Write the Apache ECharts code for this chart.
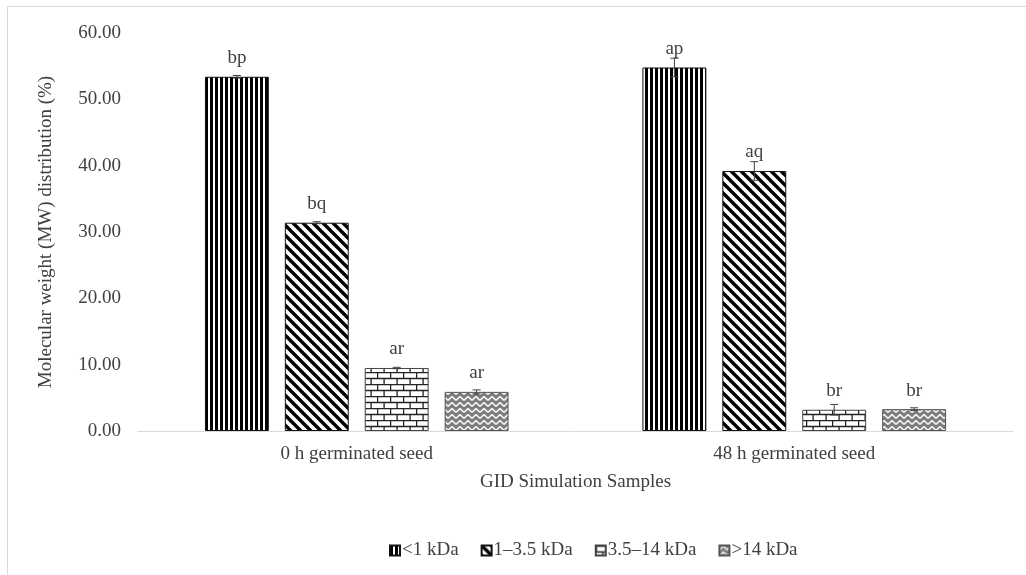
<!DOCTYPE html>
<html>
<head>
<meta charset="utf-8">
<script src="https://cdn.jsdelivr.net/npm/echarts@6/dist/echarts.min.js"></script>
<style>
html,body{margin:0;padding:0;background:#fff;}
#chart{width:1026px;height:575px;}
</style>
</head>
<body>
<div id="chart"></div>
<script>
// ---- data ----
var categories = ['0 h germinated seed', '48 h germinated seed'];
var seriesNames = ['<1 kDa', '1\u20133.5 kDa', '3.5\u201314 kDa', '>14 kDa'];
var valsLt1 = [53.4, 54.8];
var vals1to35 = [31.4, 39.2];
var vals35to14 = [9.5, 3.2];
var valsGt14 = [5.9, 3.3];
var errLt1 = [0.2, 1.4];
var err1to35 = [0.15, 1.4];
var err35to14 = [0.1, 0.8];
var errGt14 = [0.3, 0.2];
var lettersLt1 = ['bp', 'ap'];
var letters1to35 = ['bq', 'aq'];
var letters35to14 = ['ar', 'br'];
var lettersGt14 = ['ar', 'br'];
var yTicks = [0, 10, 20, 30, 40, 50, 60];

var values = [valsLt1, vals1to35, vals35to14, valsGt14];
var errors = [errLt1, err1to35, err35to14, errGt14];
var letters = [lettersLt1, letters1to35, letters35to14, lettersGt14];

// ---- patterns ----
function mk(w, h, draw) {
  var c = document.createElement('canvas');
  c.width = w; c.height = h;
  var ctx = c.getContext('2d');
  ctx.fillStyle = '#fff'; ctx.fillRect(0, 0, w, h);
  draw(ctx, w, h);
  return c;
}
var patVert = mk(5, 4, function (ctx) {
  ctx.fillStyle = '#000'; ctx.fillRect(0, 0, 3, 4);
});
var patDiag = mk(10, 10, function (ctx) {
  ctx.strokeStyle = '#000'; ctx.lineWidth = 3.4;
  for (var k = -10; k <= 10; k += 10) {
    ctx.beginPath(); ctx.moveTo(k - 2, -2); ctx.lineTo(k + 12, 12); ctx.stroke();
  }
});
var patBrick = mk(13, 12, function (ctx) {
  ctx.strokeStyle = '#222'; ctx.lineWidth = 1.3;
  ctx.beginPath();
  ctx.moveTo(0, 0.5); ctx.lineTo(13, 0.5);
  ctx.moveTo(0, 6.5); ctx.lineTo(13, 6.5);
  ctx.moveTo(0.6, 0); ctx.lineTo(0.6, 6.5);
  ctx.moveTo(7.1, 6.5); ctx.lineTo(7.1, 12);
  ctx.stroke();
});
var patWeave = mk(8, 6, function (ctx) {
  ctx.fillStyle = '#7c7c7c'; ctx.fillRect(0, 0, 8, 6);
  ctx.strokeStyle = '#f4f4f4'; ctx.lineWidth = 1.6;
  ctx.beginPath();
  ctx.moveTo(0, 4.5); ctx.lineTo(4, 0.5); ctx.lineTo(8, 4.5);
  ctx.moveTo(-4, 10.5); ctx.lineTo(0, 6.5);
  ctx.moveTo(8, 6.5); ctx.lineTo(12, 10.5);
  ctx.stroke();
});
var patterns = [patVert, patDiag, patBrick, patWeave];
var borders = ['#111', '#111', '#444', '#555'];

var FONT = 'Liberation Serif';
var TXT = '#404040';
var CAT_GAP = 0.306, BAR_GAP = 0.25;

var series = [];
for (var s = 0; s < 4; s++) {
  (function (s) {
    series.push({
      name: seriesNames[s],
      type: 'bar',
      data: values[s],
      barGap: (BAR_GAP * 100) + '%',
      barCategoryGap: (CAT_GAP * 100) + '%',
      itemStyle: {
        color: { image: patterns[s], repeat: 'repeat' },
        borderColor: borders[s],
        borderWidth: 1
      },
      label: {
        show: true, position: 'top', distance: 9,
        fontFamily: FONT, fontSize: 19, color: TXT,
        formatter: function (p) { return letters[s][p.dataIndex]; }
      },
      emphasis: { disabled: true }
    });
  })(s);
}

var errData = [];
for (var s2 = 0; s2 < 4; s2++) {
  for (var c = 0; c < categories.length; c++) {
    errData.push([c, values[s2][c] - errors[s2][c], values[s2][c] + errors[s2][c], s2]);
  }
}
series.push({
  type: 'custom',
  name: 'err',
  z: 5,
  silent: true,
  data: errData,
  encode: { x: 0, y: [1, 2] },
  renderItem: function (params, api) {
    var ci = api.value(0), lo = api.value(1), hi = api.value(2), si = api.value(3);
    var band = api.size([1, 0])[0];
    var n = 4;
    var w = band * (1 - CAT_GAP) / (n + (n - 1) * BAR_GAP);
    var total = n * w + (n - 1) * BAR_GAP * w;
    var center = api.coord([ci, 0]);
    var x = center[0] - total / 2 + si * w * (1 + BAR_GAP) + w / 2;
    var yLo = api.coord([ci, lo])[1];
    var yHi = api.coord([ci, hi])[1];
    var cap = 4;
    var st = { stroke: '#404040', lineWidth: 1 };
    return {
      type: 'group',
      children: [
        { type: 'line', shape: { x1: x, y1: yLo, x2: x, y2: yHi }, style: st },
        { type: 'line', shape: { x1: x - cap, y1: yHi, x2: x + cap, y2: yHi }, style: st },
        { type: 'line', shape: { x1: x - cap, y1: yLo, x2: x + cap, y2: yLo }, style: st }
      ]
    };
  }
});

var chart = echarts.init(document.getElementById('chart'), null, { renderer: 'canvas' });
chart.setOption({
  animation: false,
  backgroundColor: '#fff',
  textStyle: { fontFamily: FONT, color: TXT },
  graphic: [{
    type: 'rect', silent: true, z: -10,
    shape: { x: 7.5, y: 6.5, width: 1040, height: 600 },
    style: { fill: 'none', stroke: '#d9d9d9', lineWidth: 1 }
  }],
  grid: { left: 138, right: 13, top: 33, bottom: 144 },
  legend: {
    data: seriesNames,
    left: 384, top: 536,
    itemWidth: 10, itemHeight: 10, itemGap: 22,
    icon: 'rect',
    textStyle: { fontFamily: FONT, fontSize: 19, color: TXT, padding: [0, 0, 0, -3] }
  },
  xAxis: {
    type: 'category',
    data: categories,
    axisTick: { show: false },
    axisLine: { lineStyle: { color: '#d9d9d9', width: 1 } },
    axisLabel: { fontFamily: FONT, fontSize: 19, color: TXT, margin: 14 },
    name: 'GID Simulation Samples',
    nameLocation: 'middle',
    nameGap: 42,
    nameTextStyle: { fontFamily: FONT, fontSize: 19, color: TXT }
  },
  yAxis: {
    type: 'value',
    min: yTicks[0], max: yTicks[yTicks.length - 1], interval: yTicks[1] - yTicks[0],
    splitLine: { show: false },
    axisLine: { show: false },
    axisTick: { show: false },
    axisLabel: {
      fontFamily: FONT, fontSize: 19, color: TXT, margin: 17,
      formatter: function (v) { return v.toFixed(2); }
    },
    name: 'Molecular weight (MW) distribution (%)',
    nameLocation: 'middle',
    nameGap: 82,
    nameTextStyle: { fontFamily: FONT, fontSize: 19, color: TXT }
  },
  series: series
});
</script>
</body>
</html>
